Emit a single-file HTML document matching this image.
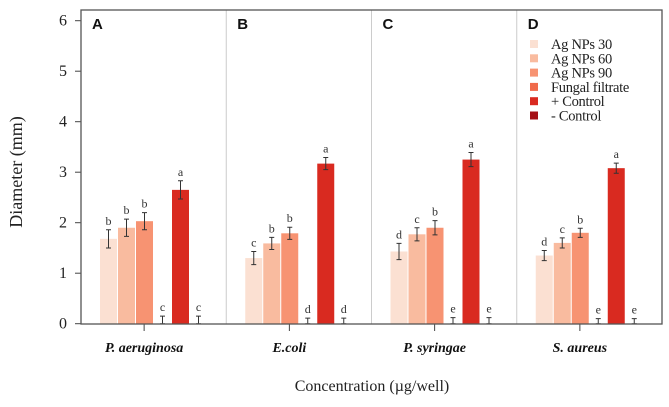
<!DOCTYPE html>
<html><head><meta charset="utf-8"><style>
body{margin:0;background:#fff;}
svg{display:block;font-family:"Liberation Serif",serif;}
</style></head><body>
<svg id="chart" width="669" height="407">
<text x="22" y="172" transform="rotate(-90 22 172)" text-anchor="middle" font-size="18" fill="#222">Diameter (mm)</text>
<text x="372" y="391" text-anchor="middle" font-size="16" fill="#222">Concentration (µg/well)</text>
<g id="plot"></g>
</svg>
<script>
const categories=["P. aeruginosa","E.coli","P. syringae","S. aureus"];
const panelLabels=["A","B","C","D"];
const seriesNames=["Ag NPs 30","Ag NPs 60","Ag NPs 90","Fungal filtrate","+ Control","- Control"];
const seriesColors=["#fbe0d2","#f9bb9f","#f79372","#f06a4b","#d92a20","#a50f15"];
const valuesA=[1.68,1.90,2.03,0,2.65,0];
const valuesB=[1.30,1.59,1.79,0,3.17,0];
const valuesC=[1.43,1.77,1.90,0,3.25,0];
const valuesD=[1.35,1.60,1.80,0,3.08,0];
const errA=[0.18,0.17,0.17,0.15,0.18,0.15];
const errB=[0.13,0.12,0.12,0.11,0.12,0.11];
const errC=[0.16,0.13,0.14,0.12,0.14,0.12];
const errD=[0.10,0.10,0.09,0.10,0.10,0.10];
const lettersA=["b","b","b","c","a","c"];
const lettersB=["c","b","b","d","a","d"];
const lettersC=["d","c","b","e","a","e"];
const lettersD=["d","c","b","e","a","e"];
const yTicks=[0,1,2,3,4,5,6];
const values=[valuesA,valuesB,valuesC,valuesD];
const errs=[errA,errB,errC,errD];
const letters=[lettersA,lettersB,lettersC,lettersD];

const NS="http://www.w3.org/2000/svg";
const g=document.getElementById('plot');
const L=81,R=662,T=10,B=324,Y0=323.7,Y6=20.7;
const pw=(R-L)/4;
function y(v){return Y0-(v/6)*(Y0-Y6);}
function mk(t,a,txt){const e=document.createElementNS(NS,t);for(const k in a)e.setAttribute(k,a[k]);if(txt!==undefined)e.textContent=txt;g.appendChild(e);return e;}
function barX(p,s){return L+p*pw+19+s*18;}

for(let p=1;p<4;p++){
  const e=mk('line',{x1:L+p*pw,x2:L+p*pw,y1:T,y2:B,stroke:'#ccc','stroke-width':1});
  
  
}
yTicks.forEach(t=>{
  const l=mk('line',{x1:L-6,x2:L,y1:y(t),y2:y(t),stroke:'#444','stroke-width':1});
  
  
  const tx=mk('text',{x:L-14,y:y(t)+5,'text-anchor':'end','font-size':16,fill:'#222'},String(t));
  
  
});
for(let p=0;p<4;p++){
  const pl=mk('text',{x:L+p*pw+11,y:T+19,'font-family':'Liberation Sans, sans-serif','font-weight':'bold','font-size':15,fill:'#111'},panelLabels[p]);
  
  
  for(let s=0;s<6;s++){
    const v=values[p][s],e=errs[p][s],x0=barX(p,s),cx=x0+8.5;
    if(v>0){
      const r=mk('rect',{x:x0,y:y(v),width:17,height:Y0-y(v),fill:seriesColors[s]});
      
      
    }
    const top=y(v+e),bot=v>0?y(v-e):y(0);
    const eb=mk('path',{d:`M${cx},${top}V${bot}M${cx-2.5},${top}H${cx+2.5}M${cx-2.5},${bot}H${cx+2.5}`,stroke:'#333','stroke-width':1,fill:'none'});
    
    
    const lt=mk('text',{x:cx,y:top-5,'text-anchor':'middle','font-size':12,fill:'#333'},letters[p][s]);
    
    
  }
  const cx=L+p*pw+pw/2-9.5;
  const tk=mk('line',{x1:cx,x2:cx,y1:B,y2:B+7,stroke:'#444'});
  
  
  const cl=mk('text',{x:cx,y:352,'text-anchor':'middle','font-size':14,'font-weight':'bold','font-style':'italic',fill:'#111'},categories[p]);
  
  
}
const fr=mk('rect',{x:L,y:T,width:R-L,height:B-T,fill:'none',stroke:'#555','stroke-width':1.3});


seriesNames.forEach((n,i)=>{
  const sw=mk('rect',{x:530,y:40+i*14.3,width:8,height:8,fill:seriesColors[i]});
  
  
  const t=mk('text',{x:551,y:49+i*14.3,'font-size':14.5,'letter-spacing':'-0.3',fill:'#222'},n);
  
  
});
</script>
</body></html>
